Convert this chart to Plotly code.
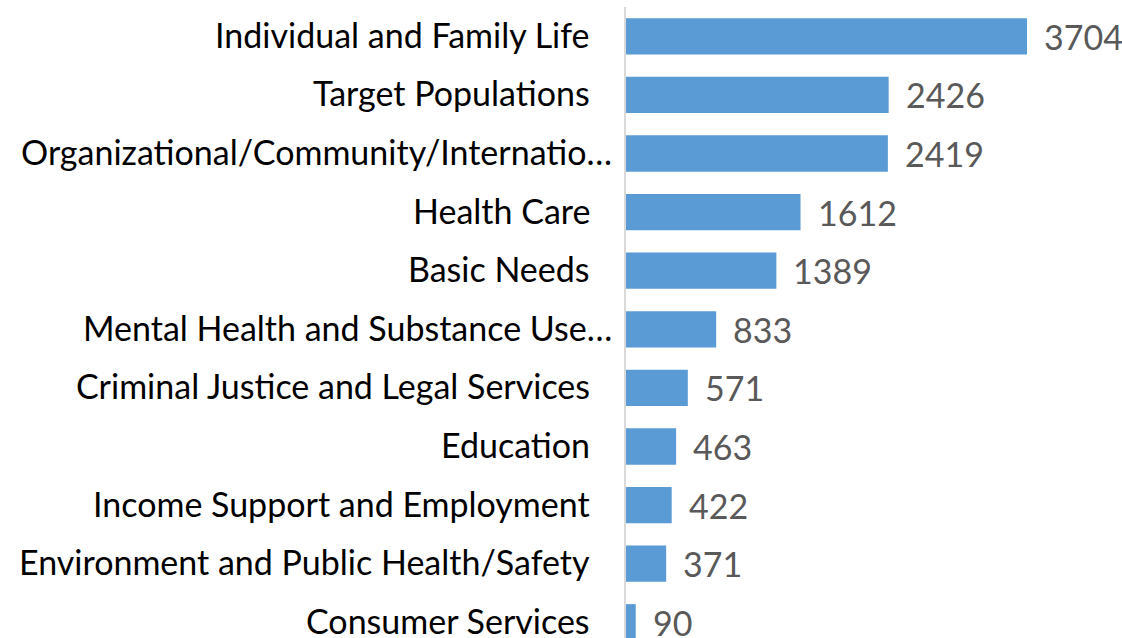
import plotly.graph_objects as go

categories = [
    "Individual and Family Life",
    "Target Populations",
    "Organizational/Community/Internatio…",
    "Health Care",
    "Basic Needs",
    "Mental Health and Substance Use…",
    "Criminal Justice and Legal Services",
    "Education",
    "Income Support and Employment",
    "Environment and Public Health/Safety",
    "Consumer Services",
]
values = [3704, 2426, 2419, 1612, 1389, 833, 571, 463, 422, 371, 90]
truncated = [False, False, True, False, False, True, False, False, False, False, False]

FONT = "Lato"
SIZE = 34

fig = go.Figure()
fig.add_trace(go.Bar(
    x=values, y=categories, orientation="h",
    marker=dict(color="#5B9BD5", line=dict(width=0)),
    width=0.62,
    hoverinfo="x+y",
))

annotations = []
for c, v, t in zip(categories, values, truncated):
    annotations.append(dict(
        x=0, y=c, xref="x", yref="y", text=c, showarrow=False,
        xanchor="right", yanchor="middle", xshift=-12 if t else -34, yshift=2,
        font=dict(family=FONT, size=SIZE, color="#000000"),
    ))
    annotations.append(dict(
        x=v, y=c, xref="x", yref="y", text=str(v), showarrow=False,
        xanchor="left", yanchor="middle", xshift=15, yshift=0,
        font=dict(family=FONT, size=SIZE, color="#595959"),
    ))

plot_h = 638 - 7
spacing = 58.6
fig.update_layout(
    width=1122, height=638,
    margin=dict(l=626, r=0, t=7, b=0, pad=0),
    paper_bgcolor="white", plot_bgcolor="white",
    showlegend=False,
    annotations=annotations,
    xaxis=dict(range=[0, 496 / 0.10826], showgrid=False, zeroline=False,
               showticklabels=False, showline=False, fixedrange=True),
    yaxis=dict(range=[-0.5 + plot_h / spacing, -0.5], showgrid=False,
               zeroline=False, showticklabels=False, showline=True,
               linecolor="#D9D9D9", linewidth=1.5, ticks="", fixedrange=True,
               categoryorder="array", categoryarray=categories),
)

fig.write_html(
    "out.html",
    config={"displayModeBar": False},
    post_script="document.body.style.margin='0';document.body.style.overflow='hidden';",
)
